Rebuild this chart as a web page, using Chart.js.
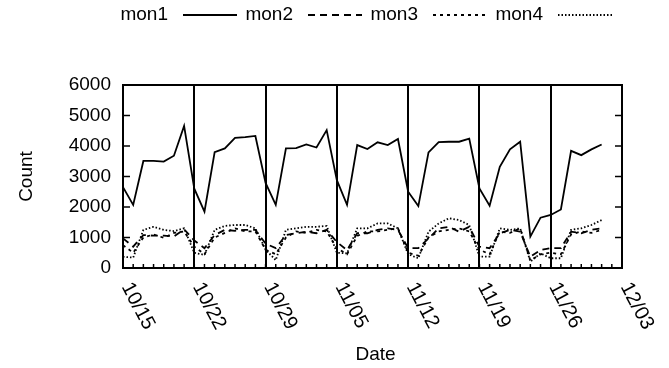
<!DOCTYPE html>
<html>
<head>
<meta charset="utf-8">
<script src="https://cdn.jsdelivr.net/npm/chart.js@4/dist/chart.umd.min.js"></script>
<style>
html,body{margin:0;padding:0;background:#fff;}
canvas{display:block;}
</style>
</head>
<body>
<canvas id="c" width="669" height="368"></canvas>
<script>
// ---- data ----
const dates = ['10/15','10/16','10/17','10/18','10/19','10/20','10/21',
  '10/22','10/23','10/24','10/25','10/26','10/27','10/28',
  '10/29','10/30','10/31','11/01','11/02','11/03','11/04',
  '11/05','11/06','11/07','11/08','11/09','11/10','11/11',
  '11/12','11/13','11/14','11/15','11/16','11/17','11/18',
  '11/19','11/20','11/21','11/22','11/23','11/24','11/25',
  '11/26','11/27','11/28','11/29','11/30','12/01','12/02','12/03'];
const weekLabels = ['10/15','10/22','10/29','11/05','11/12','11/19','11/26','12/03'];
const seriesNames = ['mon1','mon2','mon3','mon4'];
const mon1 = [2650,2070,3510,3510,3490,3680,4660, 2600,1850,3800,3920,4270,4290,4330,
  2790,2070,3920,3930,4050,3950,4520, 2880,2070,4030,3900,4120,4030,4230,
  2500,2030,3790,4130,4140,4140,4240, 2610,2040,3320,3890,4140,1030,1650,
  1740,1920,3840,3700,3890,4050];
const mon2 = [970,700,1080,1060,1060,1030,1270, 900,650,1080,1250,1220,1250,1250,
  800,650,1080,1140,1190,1140,1250, 850,590,1140,1140,1250,1300,1250,
  650,650,970,1300,1350,1190,1350, 700,650,1140,1250,1190,370,590,
  650,650,1190,1140,1250,1300];
const mon3 = [750,500,1000,1100,990,1150,1200, 700,450,1000,1150,1300,1200,1200,
  600,450,1000,1200,1150,1250,1200, 650,450,1050,1200,1200,1250,1300,
  500,400,1000,1200,1250,1300,1200, 600,450,1200,1150,1300,250,450,
  500,450,1100,1200,1150,1250];
const mon4 = [370,340,1250,1350,1250,1210,1300, 500,430,1250,1380,1410,1410,1300,
  600,260,1250,1300,1350,1350,1380, 500,480,1300,1300,1460,1460,1300,
  450,320,1190,1460,1630,1570,1410, 370,370,1300,1250,1300,210,480,
  320,320,1250,1300,1410,1570];
const yTicks = [0,1000,2000,3000,4000,5000,6000];

const FONT = '"Liberation Sans", Arial, Helvetica, sans-serif';
const dashes = [[], [7,5], [3,4], [1.5,2]];

function ds(label, data, i){
  return {label, data, borderColor:'#000', borderWidth: 1.8, borderDash: dashes[i],
    pointRadius:0, tension:0, fill:false};
}

const decor = {
  id:'decor',
  beforeDatasetsDraw(chart){
    const {ctx, chartArea:a, scales:{x,y}} = chart;
    ctx.save();
    ctx.strokeStyle='#000';
    ctx.lineWidth=2;
    ctx.setLineDash([]);
    dates.forEach((d,i)=>{
      if (weekLabels.includes(d)) {
        const px = Math.round(x.getPixelForValue(i));
        ctx.beginPath(); ctx.moveTo(px,a.top); ctx.lineTo(px,a.bottom); ctx.stroke();
      }
    });
    ctx.lineWidth=1.5;
    dates.forEach((d,i)=>{
      const px = x.getPixelForValue(i);
      ctx.beginPath(); ctx.moveTo(px,a.bottom); ctx.lineTo(px,a.bottom-4); ctx.stroke();
    });
    yTicks.forEach(v=>{
      const py = y.getPixelForValue(v);
      ctx.beginPath(); ctx.moveTo(a.left,py); ctx.lineTo(a.left+7,py); ctx.stroke();
      ctx.beginPath(); ctx.moveTo(a.right,py); ctx.lineTo(a.right-7,py); ctx.stroke();
    });
    ctx.restore();
  },
  afterDatasetsDraw(chart){
    const {ctx, chartArea:a, scales:{x}} = chart;
    ctx.save();
    ctx.strokeStyle='#000';
    ctx.lineWidth=2;
    ctx.setLineDash([]);
    ctx.strokeRect(a.left, a.top, a.right-a.left, a.bottom-a.top);
    ctx.fillStyle='#000';
    ctx.font = '20px ' + FONT;
    dates.forEach((d,i)=>{
      if (weekLabels.includes(d)) {
        const px = x.getPixelForValue(i);
        ctx.save();
        ctx.translate(px+3, a.bottom+16);
        ctx.rotate(62*Math.PI/180);
        ctx.textAlign='left'; ctx.textBaseline='middle';
        ctx.fillText(d,0,0);
        ctx.restore();
      }
    });
    ctx.font = '19px ' + FONT;
    ctx.textAlign='center'; ctx.textBaseline='middle';
    ctx.fillText('Date', (a.left+a.right)/2+3, 355);
    ctx.save();
    ctx.translate(27,(a.top+a.bottom)/2);
    ctx.rotate(-Math.PI/2);
    ctx.fillText('Count',0,0);
    ctx.restore();
    chart.data.datasets.forEach((dset,i)=>{
      const tx = 168 + 125*i;
      ctx.textAlign='right'; ctx.textBaseline='middle';
      ctx.fillText(dset.label, tx, 15);
      ctx.beginPath();
      ctx.lineWidth = 1.8;
      ctx.setLineDash(dset.borderDash);
      ctx.moveTo(tx+15, 15); ctx.lineTo(tx+69, 15); ctx.stroke();
      ctx.setLineDash([]);
    });
    ctx.restore();
  }
};

new Chart(document.getElementById('c'), {
  type:'line',
  data:{
    labels: dates,
    datasets:[ds(seriesNames[0],mon1,0), ds(seriesNames[1],mon2,1), ds(seriesNames[2],mon3,2), ds(seriesNames[3],mon4,3)]
  },
  options:{
    responsive:false, animation:false, devicePixelRatio:1,
    layout:{padding:{top:85,right:47,bottom:0,left:0}},
    plugins:{legend:{display:false}, tooltip:{enabled:false}},
    scales:{
      x:{type:'category', offset:false, ticks:{display:false}, grid:{display:false}, border:{display:false},
        afterFit(s){ s.height = 100; }},
      y:{min:0, max:6000, ticks:{stepSize:1000, color:'#000', padding:12, font:{size:19, family:FONT},
          callback:(v)=>String(v)},
        grid:{display:false, drawTicks:false}, border:{display:false},
        afterFit(s){ s.width = 123; }}
    }
  },
  plugins:[decor]
});
</script>
</body>
</html>
